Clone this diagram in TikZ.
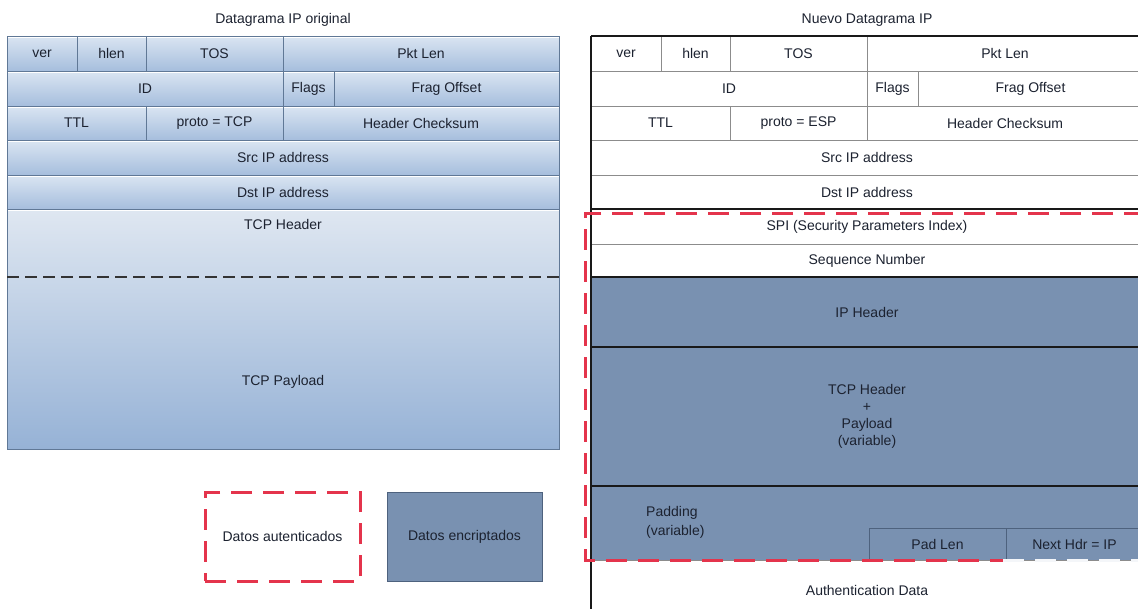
\documentclass[tikz,border=0pt]{standalone}
\usepackage{fontspec}
\setmainfont{Liberation Sans}

\definecolor{lborder}{RGB}{96,120,150}
\definecolor{ltop}{RGB}{218,229,242}
\definecolor{lbot}{RGB}{166,190,221}
\definecolor{bigtop}{RGB}{223,231,241}
\definecolor{bigbot}{RGB}{150,178,214}
\definecolor{enc}{RGB}{121,145,177}
\definecolor{encedge}{RGB}{78,98,126}
\definecolor{authred}{RGB}{228,52,76}
\definecolor{txt}{RGB}{28,34,48}
\definecolor{rline}{RGB}{140,140,140}

% a rectangular cell given by its corners (x1,y1)-(x2,y2), in pixel units
\newcommand\cellbox[7]{%
  \node[#1, minimum width={((#5)-(#3))*1pt}, minimum height={((#6)-(#4))*1pt}]
    (#2) at ({((#3)+(#5))/2},{((#4)+(#6))/2}) {#7};}

\tikzset{
  lcell/.style={draw=lborder, line width=1pt, top color=ltop, bottom color=lbot,
    inner sep=0pt, outer sep=0pt,
    path picture={\draw[white, line width=1pt]
      ([yshift=-1.3pt]path picture bounding box.north west) --
      ([yshift=-1.3pt]path picture bounding box.north east);}},
  bigcell/.style={lcell, top color=bigtop, bottom color=bigbot},
  rcell/.style={draw=rline, line width=0.8pt, fill=white, inner sep=0pt, outer sep=0pt},
  ecell/.style={fill=enc, draw=none, inner sep=0pt, outer sep=0pt},
  padcell/.style={draw=encedge, line width=0.8pt, fill=enc, inner sep=0pt, outer sep=0pt},
  lbl/.style={inner sep=0pt, align=center},
  rule/.style={draw=black!90, line width=2.6pt},
  authline/.style={draw=authred, line width=3pt, dash pattern=on 21pt off 11pt},
  fadeline/.style={draw=white!92!enc, line width=3pt, dash pattern=on 21pt off 11pt},
  splitline/.style={draw=black!80, line width=1.5pt, dash pattern=on 12pt off 6pt},
}

\begin{document}
\begin{tikzpicture}[x=1pt, y=-1pt, text=txt,
  font=\fontsize{14}{17}\selectfont]
\useasboundingbox (0,0) rectangle (1138,608);
\fill[white] (0,0) rectangle (1138,608);
\clip (0,0) rectangle (1138,608);

% ---------- original IP datagram ----------
\node[lbl] (ltitle) at (283,20) {Datagrama IP original};

\cellbox{lcell}{lver}{7}{36}{77}{71}{ver}
\cellbox{lcell}{lhlen}{77}{36}{146}{71}{hlen}
\cellbox{lcell}{ltos}{146}{36}{283}{71}{TOS}
\cellbox{lcell}{lpkt}{283}{36}{559}{71}{Pkt Len}
\cellbox{lcell}{lid}{7}{71}{283}{106}{ID}
\cellbox{lcell}{lflags}{283}{71}{334}{106}{Flags}
\cellbox{lcell}{lfrag}{334}{71}{559}{106}{Frag Offset}
\cellbox{lcell}{lttl}{7}{106}{146}{140}{TTL}
\cellbox{lcell}{lproto}{146}{106}{283}{140}{proto = TCP}
\cellbox{lcell}{lcsum}{283}{106}{559}{140}{Header Checksum}
\cellbox{lcell}{lsrc}{7}{140}{559}{175}{Src IP address}
\cellbox{lcell}{ldst}{7}{175}{559}{209}{Dst IP address}
\cellbox{bigcell}{ltcp}{7}{209}{559}{449}{}

\coordinate (lsplitw) at (7,277);
\coordinate (lsplite) at (559,277);
\draw[splitline] (lsplitw) -- (lsplite);
\node[lbl] (ltcphdr) at (283,224) {TCP Header};
\node[lbl] (lpayload) at (283,382) {TCP Payload};

% ---------- legend ----------
\cellbox{lbl, authline}{legauth}{205}{492}{360}{581}{Datos autenticados}
\cellbox{padcell}{legenc}{387}{492}{542}{581}{Datos encriptados}

% ---------- new IP datagram ----------
\node[lbl] (rtitle) at (867,20) {Nuevo Datagrama IP};

\cellbox{rcell}{rver}{591}{36}{661}{71}{ver}
\cellbox{rcell}{rhlen}{661}{36}{730}{71}{hlen}
\cellbox{rcell}{rtos}{730}{36}{867}{71}{TOS}
\cellbox{rcell}{rpkt}{867}{36}{1143}{71}{Pkt Len}
\cellbox{rcell}{rid}{591}{71}{867}{106}{ID}
\cellbox{rcell}{rflags}{867}{71}{918}{106}{Flags}
\cellbox{rcell}{rfrag}{918}{71}{1143}{106}{Frag Offset}
\cellbox{rcell}{rttl}{591}{106}{730}{140}{TTL}
\cellbox{rcell}{rproto}{730}{106}{867}{140}{proto = ESP}
\cellbox{rcell}{rcsum}{867}{106}{1143}{140}{Header Checksum}
\cellbox{rcell}{rsrc}{591}{140}{1143}{175}{Src IP address}
\cellbox{rcell}{rdst}{591}{175}{1143}{209}{Dst IP address}
\cellbox{rcell}{rspi}{591}{209}{1143}{244}{SPI (Security Parameters Index)}
\cellbox{rcell}{rseq}{591}{244}{1143}{277}{Sequence Number}
\cellbox{ecell}{riph}{591}{277}{1143}{347}{IP Header}
\cellbox{ecell, align=center}{rtcp}{591}{347}{1143}{486}{TCP Header\\+\\Payload\\(variable)}
\cellbox{ecell}{rpad}{591}{486}{1143}{560}{}
\node[lbl, anchor=west, align=left, font=\fontsize{14}{19}\selectfont]
  (rpadtxt) at (646,522) {Padding\\(variable)};
\cellbox{padcell}{rpadlen}{869}{528}{1006}{560}{Pad Len}
\cellbox{padcell}{rnext}{1006}{528}{1143}{560}{Next Hdr = IP}
\cellbox{rcell}{rauth}{591}{560}{1143}{620}{Authentication Data}

% heavy separators of the new datagram
\draw[rule] (rver.north west) -- (rpkt.north east);
\draw[rule] (rspi.north west) -- (rspi.north east);
\draw[rule] (riph.north west) -- (riph.north east);
\draw[rule] (rtcp.north west) -- (rtcp.north east);
\draw[rule] (rpad.north west) -- (rpad.north east);
\draw[rule] (rver.north west) -- (rauth.south west);

% authenticated region
\coordinate (autr) at (1145,213);
\coordinate (autl) at (585,213);
\coordinate (aubl) at (585,560);
\coordinate (aubm) at (1003,560);
\coordinate (aubr) at (1145,560);
\draw[authline] (autr) -- (autl) -- (aubl) -- (aubm);
\draw[fadeline] (aubm) -- (aubr);
\end{tikzpicture}
\end{document}
